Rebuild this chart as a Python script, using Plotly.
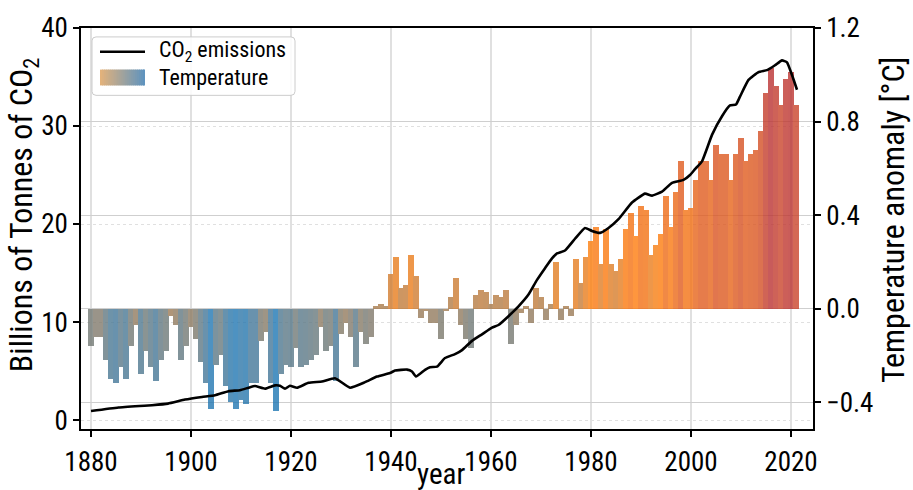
import plotly.graph_objects as go

# ---------------- data ----------------
temp_years = list(range(1880, 2022))
temp_anomaly = [
    -0.16, -0.12, -0.12, -0.22, -0.30, -0.32, -0.25, -0.30, -0.16, -0.07,   # 1880-1889
    -0.28, -0.18, -0.25, -0.31, -0.22, -0.18, -0.03, -0.07, -0.22, -0.16,   # 1890-1899
    -0.08, -0.13, -0.23, -0.32, -0.43, -0.24, -0.20, -0.33, -0.40, -0.43,   # 1900-1909
    -0.39, -0.41, -0.32, -0.32, -0.14, -0.10, -0.32, -0.44, -0.28, -0.24,   # 1910-1919
    -0.25, -0.17, -0.25, -0.24, -0.22, -0.20, -0.08, -0.18, -0.16, -0.31,   # 1920-1929
    -0.11, -0.06, -0.12, -0.25, -0.10, -0.15, -0.12, 0.01, 0.02, 0.01,      # 1930-1939
    0.15, 0.22, 0.09, 0.10, 0.23, 0.14, -0.04, -0.01, -0.06, -0.06,         # 1940-1949
    -0.13, -0.01, 0.05, 0.13, -0.07, -0.13, -0.17, 0.06, 0.08, 0.07,        # 1950-1959
    0.02, 0.06, 0.05, 0.08, -0.15, -0.07, -0.02, 0.01, -0.06, 0.09,         # 1960-1969
    0.05, -0.05, 0.02, 0.20, -0.05, 0.01, -0.03, 0.21, 0.11, 0.22,          # 1970-1979
    0.29, 0.35, 0.19, 0.34, 0.19, 0.16, 0.21, 0.34, 0.41, 0.31,             # 1980-1989
    0.44, 0.42, 0.23, 0.27, 0.32, 0.48, 0.35, 0.50, 0.63, 0.42,             # 1990-1999
    0.43, 0.55, 0.63, 0.63, 0.55, 0.70, 0.66, 0.66, 0.55, 0.66,             # 2000-2009
    0.73, 0.63, 0.66, 0.68, 0.76, 0.92, 1.03, 0.95, 0.87, 0.98,             # 2010-2019
    1.01, 0.87,                                                             # 2020-2021
]

co2_years = [
    1880.0, 1885.5, 1892.2, 1895.4, 1898.8, 1902.2, 1904.8, 1907.5, 1909.8,
    1911.5, 1912.8, 1914.8, 1916.8, 1917.8, 1918.8, 1919.8, 1921.2, 1923.5,
    1926.2, 1928.8, 1931.8, 1934.8, 1937.2, 1939.8, 1940.8, 1943.2, 1944.2,
    1945.0, 1946.8, 1947.8, 1949.2, 1950.8, 1952.8, 1954.2, 1956.2, 1958.2,
    1960.2, 1961.5, 1963.5, 1965.5, 1967.5, 1969.2, 1970.8, 1972.2, 1973.2,
    1974.8, 1976.8, 1978.8, 1980.2, 1981.8, 1983.5, 1985.5, 1988.2, 1990.8,
    1992.2, 1994.2, 1996.2, 1998.5, 1999.8, 2000.8, 2002.2, 2004.2, 2006.2,
    2007.8, 2009.0, 2009.8, 2011.5, 2013.5, 2015.2, 2016.8, 2018.2, 2019.2,
    2020.2, 2021.2,
]
co2_emissions = [
    0.92, 1.28, 1.52, 1.68, 2.09, 2.36, 2.53, 2.95, 3.05,
    3.30, 3.47, 3.20, 3.54, 3.50, 3.20, 3.50, 3.30, 3.80,
    3.94, 4.27, 3.30, 3.87, 4.44, 4.80, 5.05, 5.15, 4.95,
    4.44, 5.12, 5.39, 5.45, 6.33, 6.73, 7.14, 8.08, 8.75,
    9.43, 9.70, 10.6, 11.6, 12.8, 14.3, 15.5, 16.5, 17.0,
    17.3, 18.5, 19.6, 19.3, 19.1, 19.6, 20.5, 22.2, 23.1,
    22.9, 23.3, 24.2, 24.5, 25.0, 25.6, 26.4, 29.1, 31.0,
    32.1, 32.2, 33.0, 34.7, 35.5, 35.7, 36.2, 36.7, 36.5,
    35.2, 33.7,
]

x_ticks = [1880, 1900, 1920, 1940, 1960, 1980, 2000, 2020]
co2_ticks = [0, 10, 20, 30, 40]
temp_ticks = [-0.4, 0.0, 0.4, 0.8, 1.2]

# ---------------- style ----------------
FONT = "Roboto Condensed, Liberation Sans Narrow, Roboto, DejaVu Sans Condensed, sans-serif"
W, H = 913, 490
ML, MR, MT, MB = 81, 100, 24, 61
PW, PH = W - ML - MR, H - MT - MB

def px(xp):
    return (xp - ML) / PW

def py(yp):
    return (H - MB - yp) / PH

colorscale = [[0.0, "#1f77b4"], [0.5, "#ff7f0e"], [1.0, "#bb3333"]]

fig = go.Figure()

fig.add_trace(go.Bar(
    x=temp_years, y=temp_anomaly, width=1.15,
    marker=dict(color=temp_anomaly, colorscale=colorscale,
                cmin=min(temp_anomaly), cmax=max(temp_anomaly),
                line=dict(width=0)),
    opacity=0.8, yaxis="y", showlegend=False, name="Temperature",
))

fig.add_trace(go.Scatter(
    x=co2_years, y=co2_emissions, mode="lines",
    line=dict(color="black", width=2.6, shape="spline", smoothing=0.4),
    yaxis="y2", showlegend=False, name="CO2 emissions",
))

axis_common = dict(
    showline=True, linecolor="black", linewidth=1.5,
    ticks="outside", ticklen=6, tickwidth=1.5, tickcolor="black",
    tickfont=dict(family=FONT, size=27, color="black"),
)

fig.update_layout(
    width=W, height=H,
    margin=dict(l=ML, r=MR, t=MT, b=MB),
    paper_bgcolor="white", plot_bgcolor="white",
    font=dict(family=FONT, color="black"),
    bargap=0,
    xaxis=dict(
        range=[1878.0, 2024.4], tickvals=x_ticks, mirror=True,
        showgrid=True, gridcolor="#e0e0e0", gridwidth=1.6,
        zeroline=False, ticklabelstandoff=2, **axis_common,
    ),
    yaxis=dict(
        side="right", range=[-0.515, 1.2], tickvals=temp_ticks,
        tickformat=".1f", showgrid=True, gridcolor="#cfcfcf", gridwidth=1.4,
        zeroline=False, **axis_common,
    ),
    yaxis2=dict(
        side="left", overlaying="y", range=[-0.91, 40], tickvals=co2_ticks,
        showgrid=True, gridcolor="#e0e0e0", gridwidth=1.4, griddash="dot",
        zeroline=False, **axis_common,
    ),
)

annotations = [
    dict(text="year", x=px(441), y=py(474), xref="paper", yref="paper",
         showarrow=False, font=dict(family=FONT, size=29, color="black"),
         xanchor="center", yanchor="middle"),
    dict(text="Billions of Tonnes of CO<sub>2</sub>", x=px(23), y=py(213),
         xref="paper", yref="paper", textangle=-90, showarrow=False,
         font=dict(family=FONT, size=32, color="black"),
         xanchor="center", yanchor="middle"),
    dict(text="Temperature anomaly [°C]", x=px(893), y=py(218),
         xref="paper", yref="paper", textangle=-90, showarrow=False,
         font=dict(family=FONT, size=32, color="black"),
         xanchor="center", yanchor="middle"),
    dict(text="CO<sub>2</sub> emissions", x=px(157), y=py(48),
         xref="paper", yref="paper", showarrow=False,
         font=dict(family=FONT, size=22, color="black"),
         xanchor="left", yanchor="middle"),
    dict(text="Temperature", x=px(157), y=py(74),
         xref="paper", yref="paper", showarrow=False,
         font=dict(family=FONT, size=22, color="black"),
         xanchor="left", yanchor="middle"),
]

# legend box (rounded)
bx0, bx1, by0, by1, r = 92, 295, 33, 92, 4
path = (f"M {px(bx0 + r)},{py(by0)} L {px(bx1 - r)},{py(by0)} "
        f"Q {px(bx1)},{py(by0)} {px(bx1)},{py(by0 + r)} "
        f"L {px(bx1)},{py(by1 - r)} Q {px(bx1)},{py(by1)} {px(bx1 - r)},{py(by1)} "
        f"L {px(bx0 + r)},{py(by1)} Q {px(bx0)},{py(by1)} {px(bx0)},{py(by1 - r)} "
        f"L {px(bx0)},{py(by0 + r)} Q {px(bx0)},{py(by0)} {px(bx0 + r)},{py(by0)} Z")
shapes = [dict(type="path", path=path, xref="paper", yref="paper",
               fillcolor="rgba(255,255,255,0.85)", line=dict(color="#cccccc", width=1))]
shapes.append(dict(type="line", xref="paper", yref="paper",
                   x0=px(100), x1=px(145), y0=py(48), y1=py(48),
                   line=dict(color="black", width=2.6)))
# gradient patch for temperature
c_left = (226, 178, 124)
c_right = (96, 148, 190)
n = 23
for i in range(n):
    t = i / (n - 1)
    c = tuple(int(round(c_left[k] + (c_right[k] - c_left[k]) * t)) for k in range(3))
    x0 = 100 + 45 * i / n
    x1 = min(100 + 45 * (i + 1) / n + 1.0, 145)
    shapes.append(dict(type="rect", xref="paper", yref="paper",
                       x0=px(x0), x1=px(x1), y0=py(82), y1=py(66),
                       fillcolor=f"rgb{c}", line=dict(width=0)))

fig.update_layout(annotations=annotations, shapes=shapes)

fig.write_html("out.html")
